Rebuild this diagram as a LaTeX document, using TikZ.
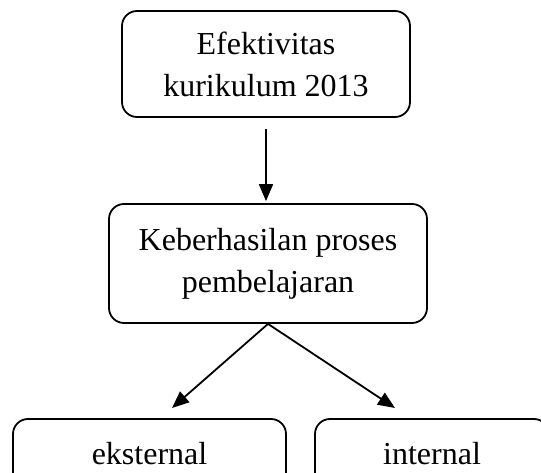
\documentclass[tikz,border=0pt]{standalone}
\usepackage{fontspec}
\setmainfont{Liberation Serif}
\usetikzlibrary{arrows.meta}
\tikzset{
  BoxStyle/.style = { rectangle, rounded corners=15pt, draw,
                      line width=1.8pt, align=center, inner sep=0pt,
                      font = \fontsize{32}{42}\selectfont },
  ArrowStyle/.style = { -{Triangle[length=17pt,width=14pt]},
                        line width=1.8pt } }

\begin{document}
\begin{tikzpicture}[x=1pt,y=1pt]
  \clip (0,0) rectangle (541,472);

  \node[BoxStyle, minimum width=288pt, minimum height=106pt]
    (efek) at (266,408) {Efektivitas\\kurikulum 2013};
  \node[BoxStyle, minimum width=318pt, minimum height=119pt]
    (proses) at (268,208.5) {Keberhasilan proses\\pembelajaran};
  \node[BoxStyle, minimum width=273pt, minimum height=70pt]
    (eks) at (149.5,18) {eksternal};
  \node[BoxStyle, minimum width=234pt, minimum height=70pt]
    (int) at (432,18) {internal};

  \coordinate (ekstip) at (172,64);
  \coordinate (inttip) at (395,64);

  \draw[ArrowStyle, shorten <=11pt, shorten >=2pt]
    (efek.south) -- (efek.south |- proses.north);
  \draw[ArrowStyle] (proses.south) -- (ekstip);
  \draw[ArrowStyle] (proses.south) -- (inttip);

\end{tikzpicture}
\end{document}
